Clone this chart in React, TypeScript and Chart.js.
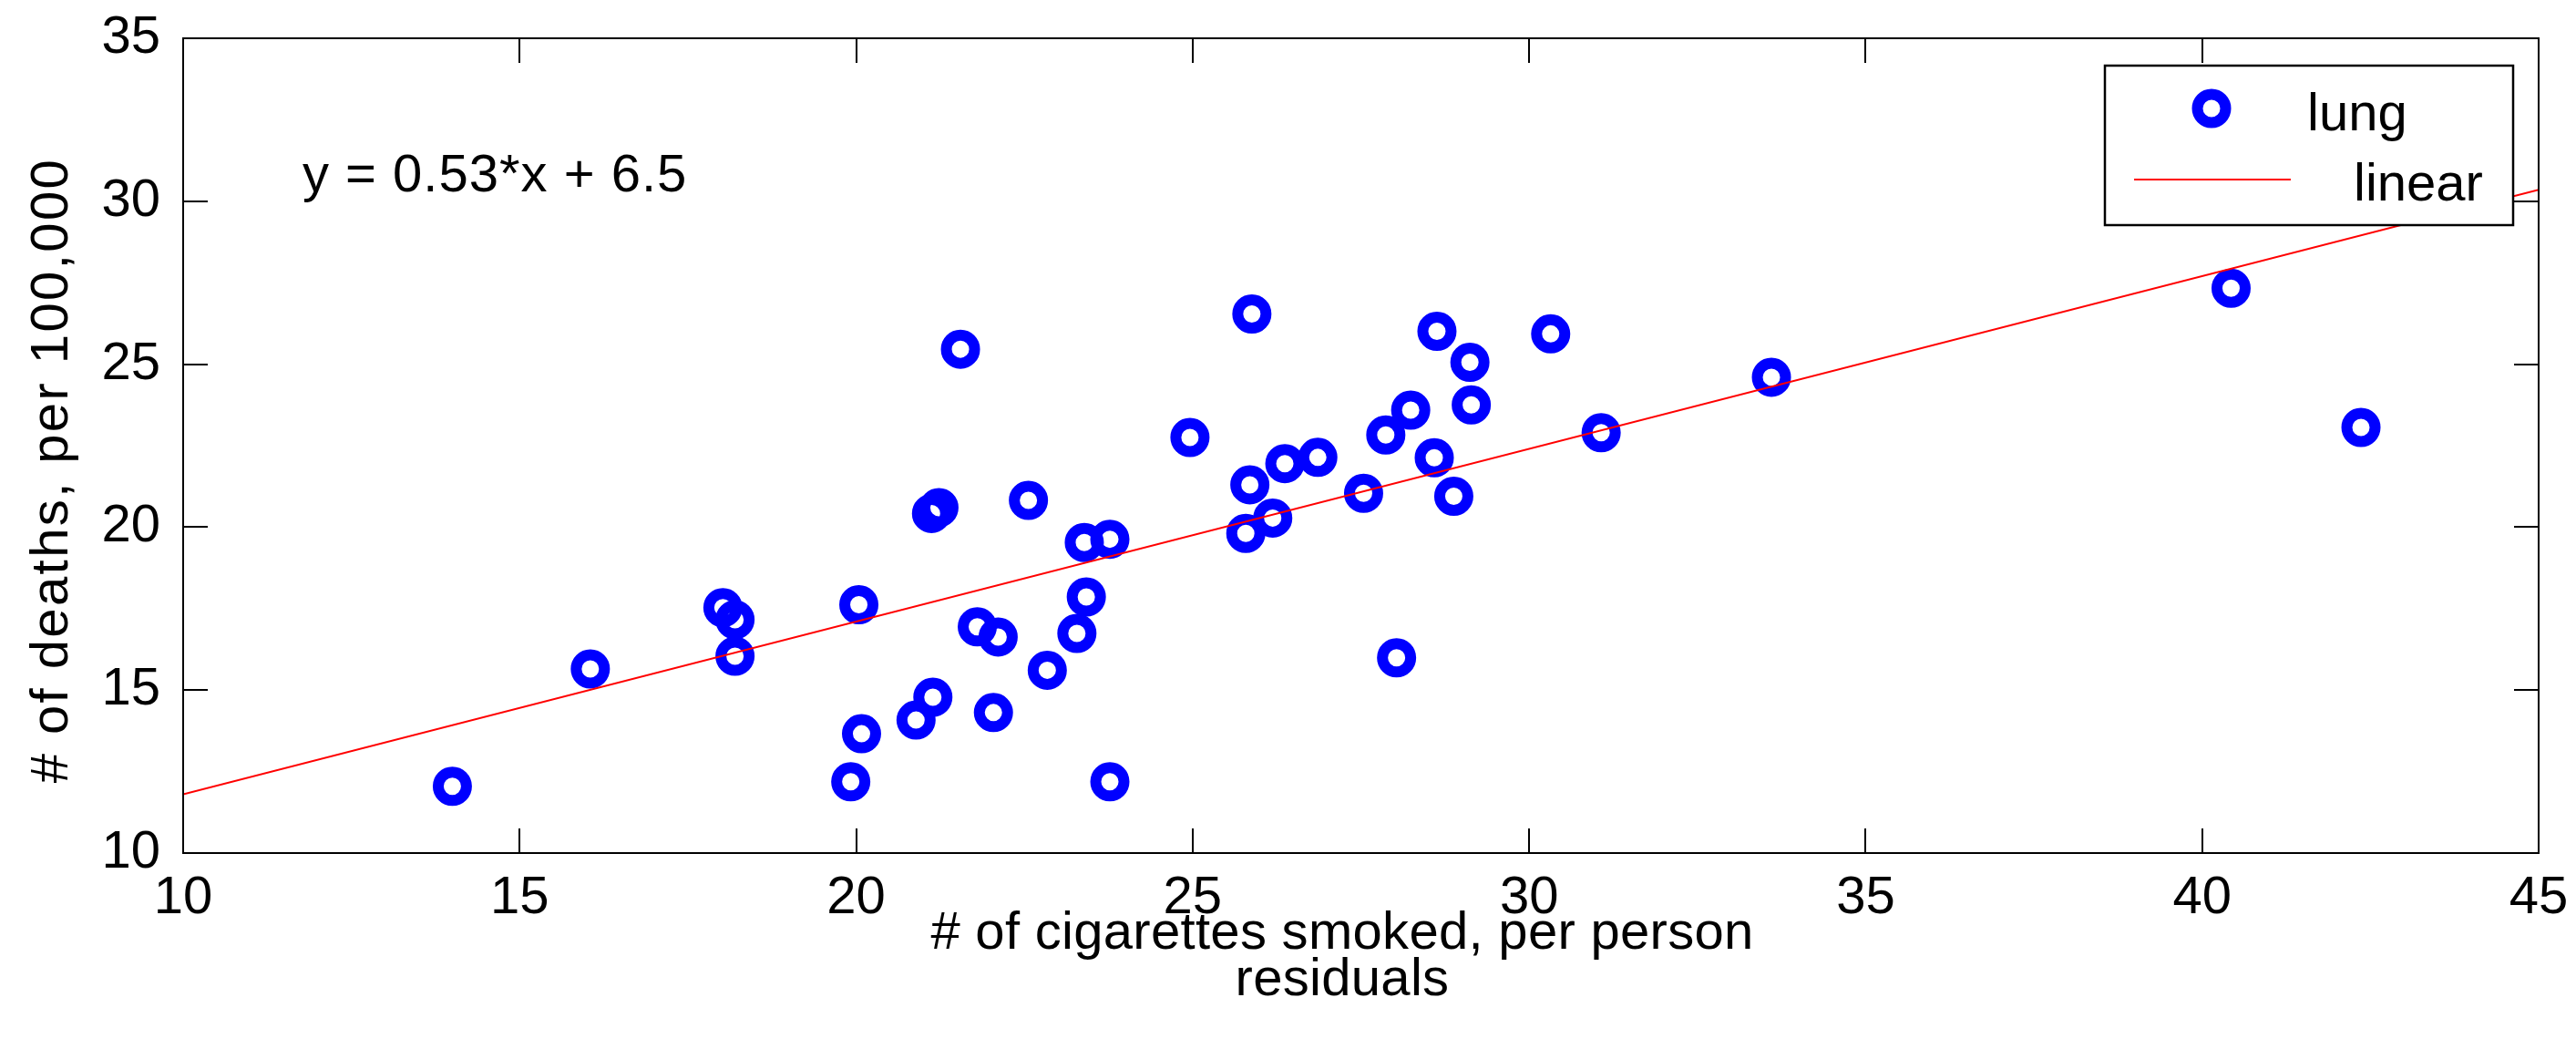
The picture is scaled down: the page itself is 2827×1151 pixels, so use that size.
import React, { useEffect, useRef } from 'react';
import { Chart, registerables } from 'chart.js';

Chart.register(...registerables);

// ---- data ----
const lungX = [
  14.0, 16.05, 18.02, 18.2, 18.2, 20.04, 20.08, 19.92, 21.55, 21.12, 21.23,
  22.56, 23.39, 23.77, 23.42, 23.28, 21.8, 22.11, 22.84, 21.14, 20.89, 22.04,
  23.77, 24.96, 25.88, 25.85, 26.19, 25.79, 26.37, 26.86, 27.54, 27.87, 28.24,
  28.63, 29.12, 29.14, 28.59, 28.88, 30.32, 31.07, 33.6, 28.03, 40.43, 42.36,
];
const lungY = [
  12.05, 15.65, 17.53, 17.16, 16.04, 17.62, 13.66, 12.19, 25.46, 20.42, 20.6,
  20.82, 19.53, 19.63, 17.86, 16.74, 16.94, 16.63, 15.61, 14.78, 14.08, 14.31,
  12.19, 22.75, 26.54, 21.3, 20.28, 19.81, 21.95, 22.14, 21.04, 22.83, 23.59,
  26.01, 25.06, 23.75, 22.13, 20.95, 25.93, 22.9, 24.6, 15.99, 27.33, 23.06,
];
const fitX = [10, 45];
const fitY = [11.8, 30.35];

const xTicks = [10, 15, 20, 25, 30, 35, 40, 45];
const yTicks = [10, 15, 20, 25, 30, 35];

const seriesNames = ['lung', 'linear'];
const equationText = 'y = 0.53*x + 6.5';
const xTitleLines = ['# of cigarettes smoked, per person', 'residuals'];
const yTitleText = '# of deaths, per 100,000';

const FONT = '"Liberation Sans", Arial, Helvetica, sans-serif';
const FS = 58;
const BLUE = '#0000ff';
const RED = '#ff0000';

const framePlugin = {
  id: 'matlabFrame',
  afterDraw(chart: any) {
    const { ctx, chartArea: a, scales } = chart;
    const xs = scales.x;
    const ys = scales.y;
    ctx.save();

    // axes box
    ctx.strokeStyle = '#000';
    ctx.lineWidth = 2;
    ctx.strokeRect(a.left, a.top, a.right - a.left, a.bottom - a.top);

    // inward ticks on all four sides
    const tl = 27;
    ctx.beginPath();
    xTicks.forEach((v) => {
      const px = Math.round(xs.getPixelForValue(v));
      ctx.moveTo(px, a.bottom);
      ctx.lineTo(px, a.bottom - tl);
      ctx.moveTo(px, a.top);
      ctx.lineTo(px, a.top + tl);
    });
    yTicks.forEach((v) => {
      const py = Math.round(ys.getPixelForValue(v));
      ctx.moveTo(a.left, py);
      ctx.lineTo(a.left + tl, py);
      ctx.moveTo(a.right, py);
      ctx.lineTo(a.right - tl, py);
    });
    ctx.stroke();

    // equation annotation
    ctx.fillStyle = '#000';
    ctx.font = `${FS}px ${FONT}`;
    ctx.textAlign = 'left';
    ctx.textBaseline = 'alphabetic';
    (ctx as any).letterSpacing = '1px';
    ctx.fillText(equationText, a.left + 131, a.top + 168);
    (ctx as any).letterSpacing = '0px';

    // legend box
    const lx = a.right - 476;
    const ly = a.top + 30;
    const lw = 448;
    const lh = 175;
    ctx.fillStyle = '#fff';
    ctx.fillRect(lx, ly, lw, lh);
    ctx.strokeStyle = '#000';
    ctx.lineWidth = 2.5;
    ctx.strokeRect(lx, ly, lw, lh);

    const lungDs = chart.data.datasets[0];
    const linDs = chart.data.datasets[1];
    // marker sample
    ctx.beginPath();
    ctx.strokeStyle = lungDs.borderColor;
    ctx.lineWidth = lungDs.pointBorderWidth;
    ctx.arc(lx + 117, ly + 47, lungDs.pointRadius, 0, Math.PI * 2);
    ctx.stroke();
    // line sample
    ctx.beginPath();
    ctx.strokeStyle = linDs.borderColor;
    ctx.lineWidth = linDs.borderWidth;
    ctx.moveTo(lx + 32, ly + 125);
    ctx.lineTo(lx + 204, ly + 125);
    ctx.stroke();

    ctx.fillStyle = '#000';
    ctx.font = `${FS}px ${FONT}`;
    ctx.textAlign = 'left';
    ctx.textBaseline = 'alphabetic';
    ctx.fillText(seriesNames[0], lx + 222, ly + 71);
    ctx.fillText(seriesNames[1], lx + 273, ly + 148);

    // x-axis title
    ctx.textAlign = 'center';
    (ctx as any).letterSpacing = '0.3px';
    ctx.fillText(xTitleLines[0], 1473, 1041);
    ctx.fillText(xTitleLines[1], 1473, 1092);

    // y-axis title
    ctx.save();
    ctx.translate(74, 516);
    ctx.rotate(-Math.PI / 2);
    ctx.textAlign = 'center';
    (ctx as any).letterSpacing = '2.4px';
    ctx.fillText(yTitleText, 0, 0);
    ctx.restore();

    ctx.restore();
  },
};

export default function App() {
  const canvasRef = useRef<HTMLCanvasElement | null>(null);

  useEffect(() => {
    document.body.style.margin = '0';
    const canvas = canvasRef.current;
    if (!canvas) return;

    const lungPoints = lungX.map((x, i) => ({ x, y: lungY[i] }));
    const fitPoints = fitX.map((x, i) => ({ x, y: fitY[i] }));

    const chart = new Chart(canvas, {
      type: 'scatter',
      data: {
        datasets: [
          {
            label: seriesNames[0],
            data: lungPoints,
            pointStyle: 'circle',
            pointRadius: 15.5,
            pointBorderWidth: 12,
            borderColor: BLUE,
            backgroundColor: 'rgba(0,0,0,0)',
            pointBackgroundColor: 'rgba(0,0,0,0)',
            pointBorderColor: BLUE,
            showLine: false,
            order: 1,
          } as any,
          {
            label: seriesNames[1],
            data: fitPoints,
            showLine: true,
            borderColor: RED,
            borderWidth: 2,
            pointRadius: 0,
            fill: false,
            order: -1,
          } as any,
        ],
      },
      options: {
        responsive: false,
        maintainAspectRatio: false,
        animation: false,
        devicePixelRatio: 1,
        layout: { padding: { left: 0, top: 42, right: 41, bottom: 0 } },
        plugins: {
          legend: { display: false },
          tooltip: { enabled: false },
          title: { display: false },
        },
        scales: {
          x: {
            type: 'linear',
            min: 10,
            max: 45,
            grid: { display: false, drawTicks: false },
            border: { display: false },
            ticks: {
              stepSize: 5,
              padding: 15,
              color: '#000',
              font: { family: FONT, size: FS, lineHeight: 1.2 },
              maxRotation: 0,
              autoSkip: false,
            },
            afterFit: (scale: any) => {
              scale.height = 215;
              scale.paddingLeft = 0;
              scale.paddingRight = 0;
              scale.paddingTop = 0;
              scale.paddingBottom = 0;
            },
          },
          y: {
            type: 'linear',
            min: 10,
            max: 35,
            grid: { display: false, drawTicks: false },
            border: { display: false },
            ticks: {
              stepSize: 5,
              padding: 25,
              color: '#000',
              font: { family: FONT, size: FS, lineHeight: 1.2 },
              autoSkip: false,
            },
            afterFit: (scale: any) => {
              scale.width = 201;
              scale.paddingLeft = 0;
              scale.paddingRight = 0;
              scale.paddingTop = 0;
              scale.paddingBottom = 0;
            },
          },
        },
      },
      plugins: [framePlugin],
    });

    return () => {
      chart.destroy();
    };
  }, []);

  return (
    <div style={{ width: 2827, height: 1151 }}>
      <canvas ref={canvasRef} width={2827} height={1151} style={{ display: 'block', width: 2827, height: 1151 }} />
    </div>
  );
}
